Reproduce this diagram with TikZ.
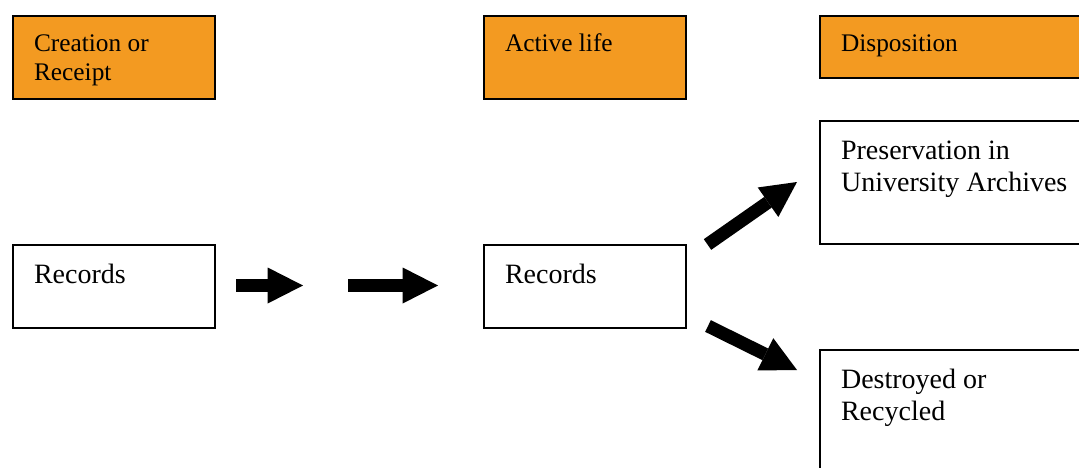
\documentclass[tikz,border=0pt]{standalone}
\usepackage{fontspec}
\setmainfont{Liberation Serif}
\usetikzlibrary{arrows.meta}
\definecolor{stageorange}{HTML}{F39A21}
\begin{document}
\begin{tikzpicture}[x=0.75pt,y=-0.75pt,
    stage/.style={draw,line width=1.6pt,fill=stageorange,anchor=north west,inner xsep=15.75pt,inner ysep=0pt,font=\fontsize{19}{21.75}\selectfont},
    item/.style={draw,line width=1.6pt,fill=white,anchor=north west,inner xsep=15.75pt,inner ysep=0pt,font=\fontsize{21}{24.4}\selectfont},
    blockarrow/.style={line width=9.75pt,-{Triangle[length=26.5pt,width=27pt,line width=0pt]}}]
        \useasboundingbox (0,0) rectangle (1079,468);
        \node[stage] (crt)  at (12,15)   {\parbox[t][62.25pt][t]{120pt}{\rule{0pt}{26.5pt}Creation or\\Receipt}};
        \node[stage] (act)  at (483,15)  {\parbox[t][62.25pt][t]{120pt}{\rule{0pt}{26.5pt}Active life}};
        \node[stage] (dsp)  at (819,15)  {\parbox[t][46.5pt][t]{260pt}{\rule{0pt}{26.5pt}Disposition}};
        \node[item]  (rec1) at (12,244)  {\parbox[t][62.25pt][t]{120pt}{\rule{0pt}{28.5pt}Records}};
        \node[item]  (rec2) at (483,244) {\parbox[t][62.25pt][t]{120pt}{\rule{0pt}{28.5pt}Records}};
        \node[item]  (pres) at (819,120) {\parbox[t][92.25pt][t]{260pt}{\rule{0pt}{28.5pt}Preservation in\\University Archives}};
        \node[item]  (dest) at (819,349) {\parbox[t][100pt][t]{260pt}{\rule{0pt}{28.5pt}Destroyed or\\Recycled}};
        \coordinate (a1s) at (236,285.5);
        \coordinate (a1e) at (303,285.5);
        \coordinate (a2s) at (348,285.5);
        \coordinate (a2e) at (438,285.5);
        \coordinate (a3s) at (707.5,244.5);
        \coordinate (a3e) at (797,182);
        \coordinate (a4s) at (708,326);
        \coordinate (a4e) at (797,370);
        \draw[blockarrow] (a1s)--(a1e);
        \draw[blockarrow] (a2s)--(a2e);
        \draw[blockarrow] (a3s)--(a3e);
        \draw[blockarrow] (a4s)--(a4e);
    \end{tikzpicture}
\end{document}
